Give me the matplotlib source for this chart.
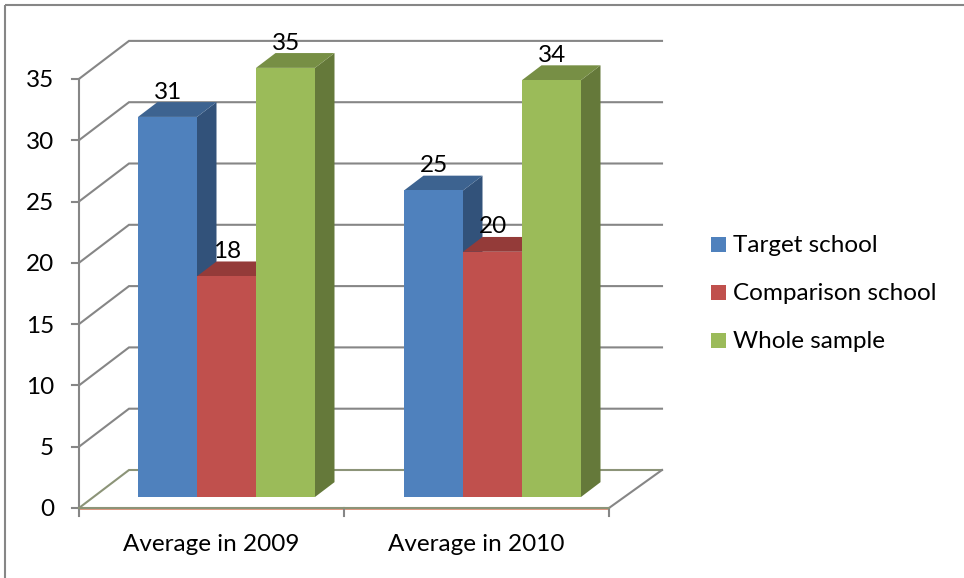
import matplotlib
matplotlib.use("Agg")
import matplotlib.pyplot as plt
from matplotlib.patches import Polygon, Rectangle

plt.rcParams['font.family'] = ['Lato', 'DejaVu Sans']

categories = ["Average in 2009", "Average in 2010"]
series_names = ["Target school", "Comparison school", "Whole sample"]
target_school = [31, 25]
comparison_school = [18, 20]
whole_sample = [35, 34]
y_ticks = [0, 5, 10, 15, 20, 25, 30, 35]

front_colors = ["#4F81BD", "#C0504D", "#9BBB59"]
top_colors = ["#3D6390", "#943B39", "#778F45"]
side_colors = ["#32527A", "#7B3230", "#65793A"]
GRID = "#868686"
FS = 17.5

W, H = 964, 578
fig = plt.figure(figsize=(W / 100, H / 100), dpi=100)
ax = fig.add_axes([0, 0, 1, 1])
PX_X = 265.0    # pixels per category
PX_Y = 12.26    # pixels per value unit
X0, Y0 = 79.0, 508.0
ax.set_xlim(-X0 / PX_X, (W - X0) / PX_X)
ax.set_ylim(-(H - Y0) / PX_Y, Y0 / PX_Y)
ax.axis("off")

DX = 50 / PX_X
DY = 38 / PX_Y
WALL_END = 3 / PX_X   # back wall reaches slightly past the projected corner


def proj(x, v, d=0.0):
    return x + DX * d, v + DY * d


def px(x_px):
    return (x_px - X0) / PX_X


# outer frame
fl = dict(color="#868686", lw=1.5, solid_capstyle="butt", transform=fig.transFigure)
fig.add_artist(plt.Line2D([5 / W, 5 / W], [0, 1 - 4.5 / H], **fl))
fig.add_artist(plt.Line2D([5 / W, 1], [1 - 4.5 / H, 1 - 4.5 / H], **fl))

n = len(categories)
# gridlines: side wall and back wall
for v in y_ticks:
    xs, ys = zip(proj(0, v, 0), proj(0, v, 1), proj(n + WALL_END, v, 1))
    col = "#8C9478" if v == 0 else GRID
    ax.plot(xs, ys, color=col, lw=1.5, solid_joinstyle="miter", zorder=1)
    ax.plot([0, px(72)], [v, v], color=GRID, lw=1.5, zorder=1)
    ax.text(px(54), v - 8.5 / PX_Y, str(v), ha="right", va="baseline", fontsize=FS, color="black")

# y axis
ax.plot([0, 0], [0, 35], color=GRID, lw=1.5, zorder=1)
# floor front & right edge
ax.plot([0, n], [-0.09, -0.09], color="#D9866B", lw=1.2, zorder=1)
ax.plot([0, n], [0, 0], color="#8C9478", lw=1.5, zorder=1.1)
xs, ys = zip(proj(n, 0, 0), proj(n + WALL_END, 0, 1))
ax.plot(xs, ys, color=GRID, lw=1.5, zorder=1)
for i in range(n + 1):
    ax.plot([i, i], [0, -8 / PX_Y], color=GRID, lw=1.5, zorder=1)

# bars
BAR_W = 59 / PX_X
D1, D2 = 0.29, 0.68
START = [px(138) - DX * D1, px(404) - DX * D1]
all_series = [target_school, comparison_school, whole_sample]
for c in range(n):
    for s, vals in enumerate(all_series):
        v = vals[c]
        x0 = START[c] + s * BAR_W
        x1 = x0 + BAR_W
        z = 3 + s * 0.1
        ax.add_patch(Polygon([proj(x1, 0, D1), proj(x1, 0, D2), proj(x1, v, D2), proj(x1, v, D1)],
                             fc=side_colors[s], ec="none", zorder=z))
        ax.add_patch(Polygon([proj(x0, v, D1), proj(x0, v, D2), proj(x1, v, D2), proj(x1, v, D1)],
                             fc=top_colors[s], ec="none", zorder=z))
        ax.add_patch(Polygon([proj(x0, 0, D1), proj(x1, 0, D1), proj(x1, v, D1), proj(x0, v, D1)],
                             fc=front_colors[s], ec="none", zorder=z + 0.05))
for c in range(n):
    for s, vals in enumerate(all_series):
        v = vals[c]
        x0 = START[c] + s * BAR_W
        tx, _ = proj(x0 + BAR_W / 2 + 1 / PX_X, v, D1)
        _, ty = proj(x0, v, D2)
        ax.text(tx, ty + 3.5 / PX_Y, str(v), ha="center", va="baseline", fontsize=FS, color="black", zorder=6)

# category labels
for i, name in enumerate(categories):
    ax.text(i + 0.5, -43 / PX_Y, name, ha="center", va="baseline", fontsize=FS, color="black")

# legend
for s, (name, y_px) in enumerate(zip(series_names, [244, 292, 340])):
    v = (Y0 - y_px) / PX_Y
    ax.add_patch(Rectangle((px(711), v - 7.5 / PX_Y), 15 / PX_X, 15 / PX_Y, fc=front_colors[s], ec="none"))
    ax.text(px(733), v - 8 / PX_Y, name, ha="left", va="baseline", fontsize=FS, color="black")

fig.savefig("out.png", dpi=100)
